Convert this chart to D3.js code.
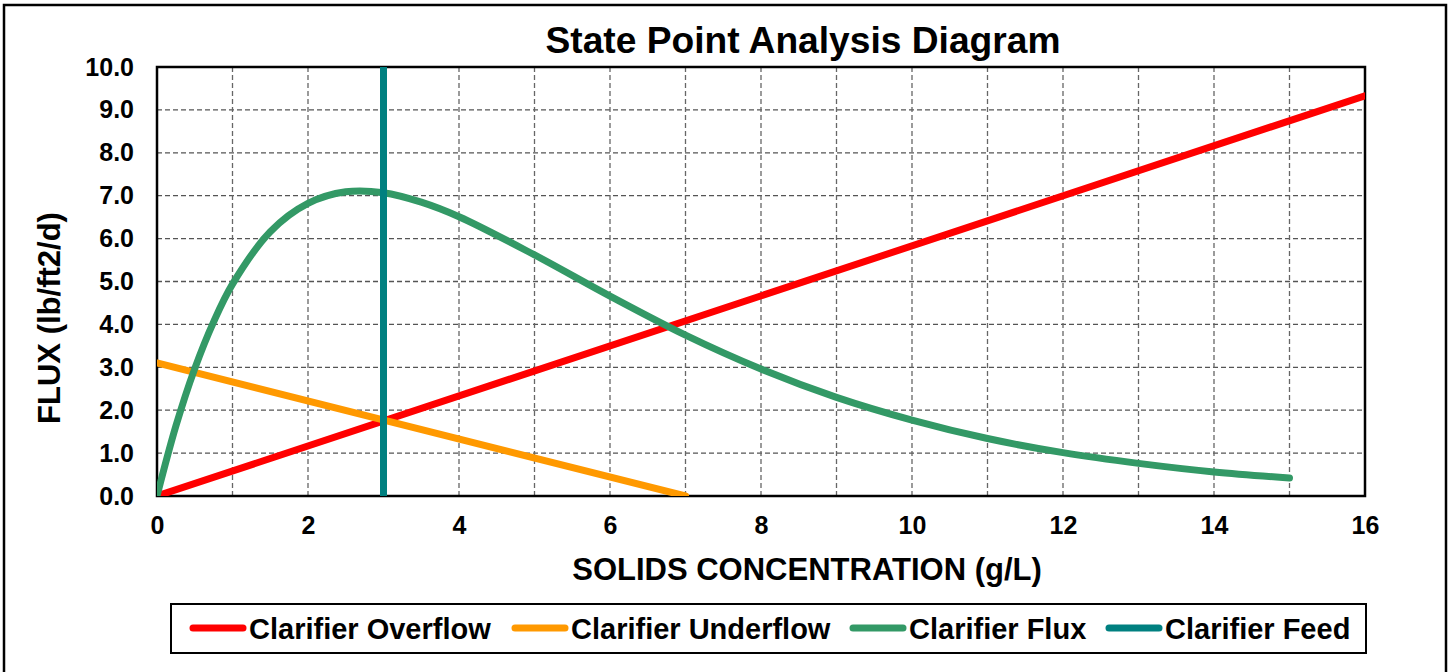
<!DOCTYPE html>
<html>
<head>
<meta charset="utf-8">
<script src="https://cdnjs.cloudflare.com/ajax/libs/d3/7.8.5/d3.min.js"></script>
<style>
  body { margin: 0; background: #fff; }
  text { font-family: "Liberation Sans", Arial, sans-serif; font-weight: bold; fill: #000; }
</style>
</head>
<body>
<div id="chart"></div>
<script>
// series data
var seriesNames = ["Clarifier Overflow", "Clarifier Underflow", "Clarifier Flux", "Clarifier Feed"];
var seriesColors = ["#ff0000", "#ff9900", "#339966", "#008080"];

var overflowX = [0, 16];
var overflowY = [0, 9.33];

var underflowX = [0, 7];
var underflowY = [3.1, 0];

var fluxX = [0, 0.25, 0.5, 0.75, 1, 1.5, 2, 2.5, 3, 3.5, 4, 5, 6, 7, 8, 9, 10, 11, 12, 13, 14, 15];
var fluxY = [0, 1.63, 2.97, 4.06, 4.94, 6.16, 6.82, 7.09, 7.07, 6.85, 6.51, 5.62, 4.66, 3.75, 2.96, 2.30, 1.77, 1.34, 1.01, 0.76, 0.56, 0.42];

var feedX = [3, 3];
var feedY = [0, 10];

var xTicks = [0, 2, 4, 6, 8, 10, 12, 14, 16];
var yTicks = [0, 1, 2, 3, 4, 5, 6, 7, 8, 9, 10];
var xGrid = [1, 2, 3, 4, 5, 6, 7, 8, 9, 10, 11, 12, 13, 14, 15];

var W = 1449, H = 672;
var margin = {top: 67, right: 84, bottom: 176, left: 157};
var width = W - margin.left - margin.right,
    height = H - margin.top - margin.bottom;

var svg = d3.select("#chart").append("svg")
    .attr("width", W)
    .attr("height", H);

// outer frame
svg.append("rect")
    .attr("x", 4).attr("y", 5)
    .attr("width", 1442).attr("height", 680)
    .attr("fill", "none")
    .attr("stroke", "#000")
    .attr("stroke-width", 2.5);

svg.append("text")
    .attr("x", 803).attr("y", 53)
    .attr("text-anchor", "middle")
    .style("font-size", "36px")
    .attr("textLength", 515)
    .attr("lengthAdjust", "spacingAndGlyphs")
    .text("State Point Analysis Diagram");

var g = svg.append("g")
    .attr("transform", "translate(" + margin.left + "," + margin.top + ")");

var x = d3.scaleLinear().domain([0, 16]).range([0, width]);
var y = d3.scaleLinear().domain([0, 10]).range([height, 0]);

// grid
g.selectAll(".hgrid").data(yTicks.slice(1))
    .enter().append("line")
    .attr("x1", 0).attr("x2", width)
    .attr("y1", function(d){ return y(d); })
    .attr("y2", function(d){ return y(d); })
    .attr("stroke", "#555")
    .attr("stroke-width", 1.3)
    .attr("stroke-dasharray", "5,3");

g.selectAll(".vgrid").data(xGrid)
    .enter().append("line")
    .attr("y1", 0).attr("y2", height)
    .attr("x1", function(d){ return x(d); })
    .attr("x2", function(d){ return x(d); })
    .attr("stroke", "#666")
    .attr("stroke-width", 1.3)
    .attr("stroke-dasharray", "5,3");

// axes
var xAxis = d3.axisBottom(x).tickValues(xTicks).tickSize(0).tickPadding(15).tickFormat(d3.format("d"));
var yAxis = d3.axisLeft(y).tickValues(yTicks).tickSize(0).tickPadding(23).tickFormat(d3.format(".1f"));

var gx = g.append("g").attr("transform", "translate(0," + height + ")").call(xAxis);
var gy = g.append("g").call(yAxis);
[gx, gy].forEach(function(a){
    a.select(".domain").remove();
    a.selectAll("text").style("font-size", "25px").attr("font-family", null);
});
gx.selectAll("text").attr("dy", "0.9em");

g.append("rect")
    .attr("width", width).attr("height", height)
    .attr("fill", "none")
    .attr("stroke", "#000")
    .attr("stroke-width", 2.5);

svg.append("defs").append("clipPath").attr("id", "plotclip")
    .append("rect")
    .attr("x", 0).attr("y", -1)
    .attr("width", width).attr("height", height + 1);

// series lines
var smooth = d3.line()
    .x(function(d){ return x(d[0]); })
    .y(function(d){ return y(d[1]); })
    .curve(d3.curveCatmullRom.alpha(0.5));

var straight = d3.line()
    .x(function(d){ return x(d[0]); })
    .y(function(d){ return y(d[1]); });

var series = [
    d3.zip(overflowX, overflowY),
    d3.zip(underflowX, underflowY),
    d3.zip(fluxX, fluxY),
    d3.zip(feedX, feedY)
];

var plot = g.append("g").attr("clip-path", "url(#plotclip)");
plot.selectAll("path").data(series)
    .enter().append("path")
    .attr("d", function(d, i){ return i == 2 ? smooth(d) : straight(d); })
    .attr("fill", "none")
    .attr("stroke", function(d, i){ return seriesColors[i]; })
    .attr("stroke-width", 7)
    .attr("stroke-linecap", function(d, i){ return i == 3 ? "butt" : "round"; })
    .attr("stroke-linejoin", "round");

// axis titles
svg.append("text")
    .attr("x", 807).attr("y", 580)
    .attr("text-anchor", "middle")
    .style("font-size", "31px")
    .text("SOLIDS CONCENTRATION (g/L)");

svg.append("text")
    .attr("transform", "translate(60,318) rotate(-90)")
    .attr("text-anchor", "middle")
    .style("font-size", "31px")
    .text("FLUX (lb/ft2/d)");

// legend
svg.append("rect")
    .attr("x", 171).attr("y", 604)
    .attr("width", 1195).attr("height", 49)
    .attr("fill", "#fff")
    .attr("stroke", "#000")
    .attr("stroke-width", 2);

var legendX = [190, 512, 850, 1106];
var legend = svg.selectAll(".legend").data(seriesNames)
    .enter().append("g")
    .attr("class", "legend")
    .attr("transform", function(d, i){ return "translate(" + legendX[i] + ",628)"; });

legend.append("line")
    .attr("x1", 3).attr("x2", 53)
    .attr("stroke", function(d, i){ return seriesColors[i]; })
    .attr("stroke-width", 7)
    .attr("stroke-linecap", "round");

legend.append("text")
    .attr("x", 59).attr("y", 11)
    .style("font-size", "29px")
    .text(function(d){ return d; });
</script>
</body>
</html>
